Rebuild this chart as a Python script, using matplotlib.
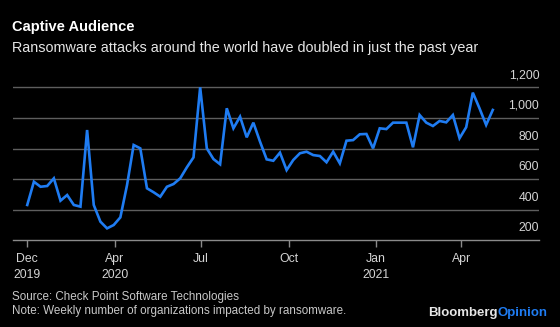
"""
    Captive Audience - weekly ransomware attacks (Bloomberg Opinion style)
"""
import numpy as np
import pandas as pd
import matplotlib
matplotlib.use('Agg')
import matplotlib.pyplot as plt
import matplotlib.transforms as mtrans

plt.rcParams['font.family'] = ['Liberation Sans', 'DejaVu Sans']

"""
    Data (read off the chart)
"""
start = '2019-12-31'
attacks = [431, 583, 550, 555, 605, 459, 496, 431, 420, 921,
           431, 322, 278, 300, 350, 560, 823, 801, 540, 514,
           485, 550, 568, 605, 677, 742, 1200, 801, 731, 697,
           1063, 932, 1008, 873, 969, 845, 729, 720, 773, 659,
           725, 769, 779, 757, 751, 710, 779, 703, 851, 855,
           893, 895, 801, 932, 927, 969, 969, 969, 808, 1019,
           969, 947, 980, 971, 1019, 867, 939, 1165, 1063, 954,
           1052]
dates = pd.date_range(start, periods=len(attacks), freq='7D')

xtick_dates = pd.to_datetime(['2019-12-31', '2020-04-01', '2020-07-01',
                              '2020-10-01', '2021-01-01', '2021-04-01'])
xtick_labels = ['Dec\n2019', 'Apr\n2020', 'Jul', 'Oct', 'Jan\n2021', 'Apr']
yticks = [200, 400, 600, 800, 1000, 1200]
ytick_labels = ['200', '400', '600', '800', '1,000', '1,200']

"""
    Make plot
"""
bg = 'black'
grid_c = '#5e5e5e'
txt_c = '#d4d4d4'
blue = '#1f7cf2'

fig = plt.figure(figsize=[5.6, 3.27], dpi=100, facecolor=bg)
ax = fig.add_axes([0.0227, 0.2651, 0.9404, 0.496])
ax.set_facecolor(bg)

ax.plot(dates, attacks, color=blue, lw=1.9, solid_joinstyle='miter', zorder=3)

ax.set_xlim(dates[0] - pd.Timedelta(days=15.3), dates[-1] + pd.Timedelta(days=49))
ax.set_ylim(200, 1260)

for v in yticks[1:]:
    ax.axhline(v, color=grid_c, lw=1.0, zorder=1)
ax.set_yticks([])

for s in ['top', 'right', 'left']:
    ax.spines[s].set_visible(False)
ax.spines['bottom'].set_color('#8a8a8a')
ax.spines['bottom'].set_linewidth(1.0)

ax.set_xticks(xtick_dates)
ax.set_xticklabels(xtick_labels, fontsize=8.8, color=txt_c, linespacing=1.45)
ax.tick_params(axis='x', direction='out', length=5, width=1.0, color='#8a8a8a', pad=4)

# y labels sit above the gridlines, right aligned
tr = mtrans.blended_transform_factory(ax.transAxes, ax.transData)
tr = mtrans.offset_copy(tr, fig=fig, x=0, y=6, units='dots')
for v, lab in zip(yticks, ytick_labels):
    ax.text(1.0, v, lab, transform=tr, ha='right', va='bottom',
            fontsize=8.8, color=txt_c)

fig.text(12 / 560, 1 - 27 / 327, 'Captive Audience', fontsize=10.5,
         fontweight='bold', color='white', va='center', ha='left')
fig.text(12 / 560, 1 - 48 / 327,
         'Ransomware attacks around the world have doubled in just the past year',
         fontsize=10.4, color='#e6e6e6', va='center', ha='left')

fig.text(12 / 560, 1 - 297 / 327, 'Source: Check Point Software Technologies',
         fontsize=8.4, color='#c8c8c8', va='center', ha='left')
fig.text(12 / 560, 1 - 311 / 327,
         'Note: Weekly number of organizations impacted by ransomware.',
         fontsize=8.4, color='#c8c8c8', va='center', ha='left')

t1 = fig.text(428 / 560, 1 - 313 / 327, 'Bloomberg', fontsize=9.5,
              fontweight='bold', color='#e6e6e6', va='center', ha='left')
fig.canvas.draw()
bb = t1.get_window_extent()
fig.text(bb.x1 / 560, 1 - 313 / 327, 'Opinion', fontsize=9.5,
         fontweight='bold', color=blue, va='center', ha='left')

fig.savefig('out.png', dpi=100, facecolor=bg)
